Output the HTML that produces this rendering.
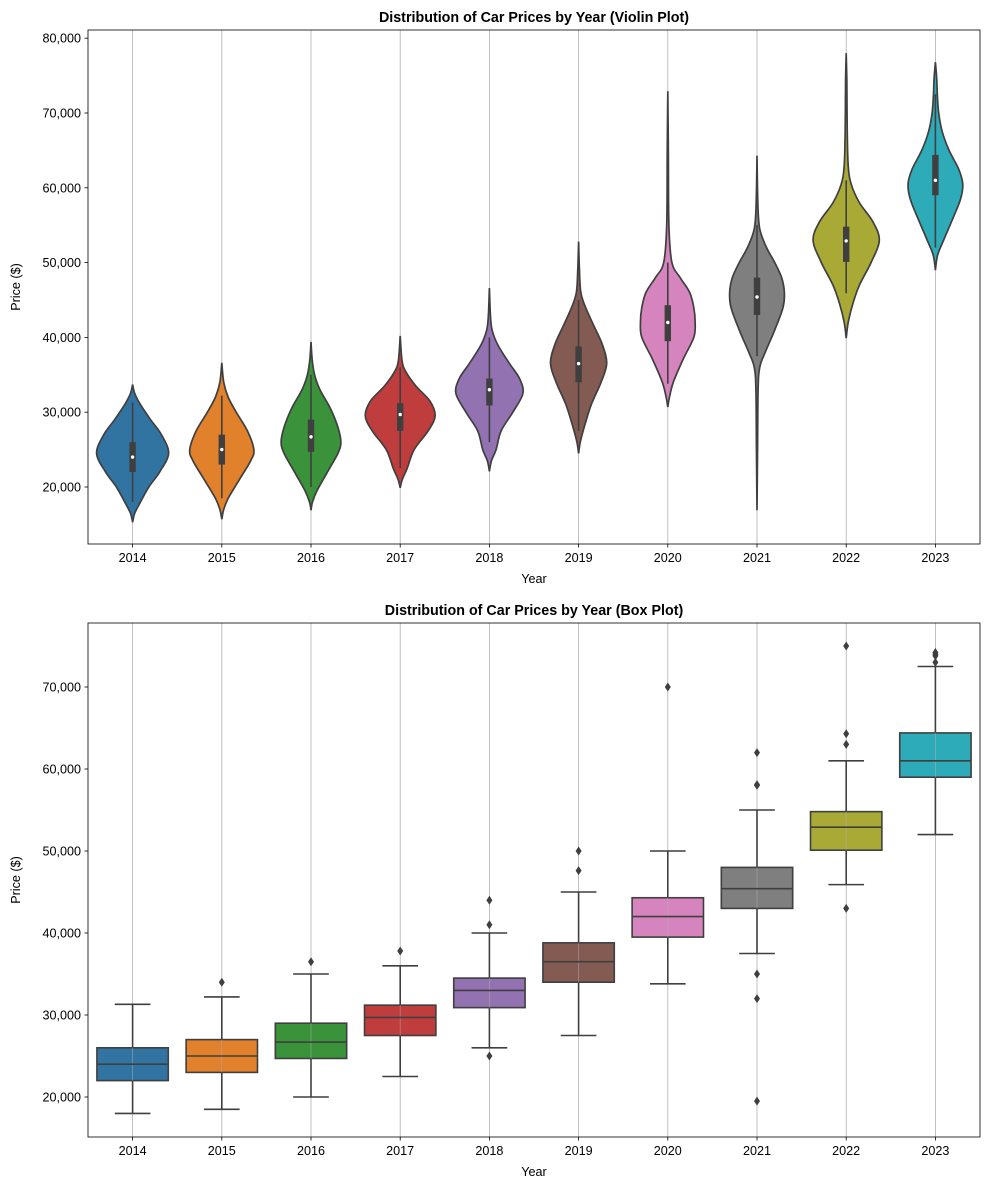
<!DOCTYPE html>
<html><head><meta charset="utf-8"><style>
body{margin:0;background:#fff}
svg text{font-family:"Liberation Sans",sans-serif;fill:#000}
</style></head><body>
<svg id="chart" width="989" height="1190" viewBox="0 0 989 1190" xmlns="http://www.w3.org/2000/svg"></svg>
<script>
const years=["2014","2015","2016","2017","2018","2019","2020","2021","2022","2023"];
const colors=["#3274a1","#e1812c","#3a923a","#c03d3e","#9372b2","#845b53","#d684bd","#7f7f7f","#a9aa35","#2eabb8"];
// violin density profiles (price in thousands, relative width)
const violinPrices=[
[15.3,16.5,18,20,22,24.5,27,29,31,32.5,33.7],
[15.7,17,18.5,21,23.5,25,27.5,30,32,34,36.6],
[16.9,18,19.5,22,24.5,26,28,30.5,33,35,37,39.4],
[19.9,21,22.5,25,27.5,29.5,31.5,33.5,35.5,37,40.2],
[22.1,23.5,25,27.5,30,32.5,34.5,36.5,39,41,43,46.6],
[24.5,26,28,31,34,36.5,39,41.5,44,46,49,52.8],
[30.7,32,34,37,40,42,44,46,48,50,55,65,72.9],
[16.9,25,33,36,38,41,44,46,48,50,52,54.5,58,64.3],
[39.9,42,44.5,47,50,53,55.5,58,60.5,63,68,74,78],
[49,51,53,56,58.5,60.5,62.5,65,67.5,70,72.5,74.5,76.8]];
const violinDensity=[
[0,0.06,0.22,0.45,0.75,1,0.8,0.5,0.22,0.06,0],
[0,0.06,0.2,0.55,0.9,1,0.8,0.45,0.2,0.06,0],
[0,0.05,0.2,0.55,0.9,1,0.9,0.65,0.3,0.12,0.04,0],
[0,0.06,0.2,0.4,0.8,1,0.85,0.45,0.15,0.05,0],
[0,0.06,0.2,0.35,0.7,1,0.9,0.6,0.25,0.08,0.03,0],
[0,0.06,0.2,0.45,0.8,1,0.85,0.55,0.25,0.08,0.03,0],
[0,0.06,0.2,0.55,0.95,1,0.95,0.8,0.45,0.15,0.04,0.02,0],
[0,0.02,0.04,0.1,0.3,0.65,0.95,1,0.9,0.65,0.35,0.1,0.03,0],
[0,0.06,0.2,0.4,0.75,1,0.8,0.4,0.15,0.06,0.03,0.02,0],
[0,0.08,0.3,0.65,0.92,1,0.85,0.5,0.25,0.12,0.07,0.05,0]];
const violinScale=[1,0.89,0.83,0.97,0.93,0.78,0.76,0.76,0.92,0.76];
const q1=[22000,23000,24700,27500,30900,34000,39500,43000,50100,59000];
const med=[24000,25000,26700,29700,33000,36500,42000,45400,52900,61000];
const q3=[26000,27000,29000,31200,34500,38800,44300,48000,54800,64400];
const whiskLo=[18000,18500,20000,22500,26000,27500,33800,37500,45900,52000];
const whiskHi=[31300,32200,35000,36000,40000,45000,50000,55000,61000,72500];
const outliers=[[],[34000],[36500],[37800],[44000,41000,25000],[47600,50000],[70000],[58000,58100,62000,35000,32000,19500],[63000,64300,75000,43000],[73000,73800,74000,74200]];
const violinTicks=[20000,30000,40000,50000,60000,70000,80000];
const boxTicks=[20000,30000,40000,50000,60000,70000];

const svg=document.getElementById('chart');
const NS="http://www.w3.org/2000/svg";
function mk(tag,attrs,parent){const e=document.createElementNS(NS,tag);for(const k in attrs)e.setAttribute(k,attrs[k]);(parent||svg).appendChild(e);return e;}
const L=88,R=980,step=(R-L)/years.length;
const xc=i=>L+step*(i+0.5);
const fmt=v=>v.toLocaleString('en-US');

function panel(top,bot,yv,title,ticks,name){
  const g=mk('g',{});
  
  
  const grid=mk('g',{},g);
  years.forEach((y,i)=>{const l=mk('line',{x1:xc(i),x2:xc(i),y1:top,y2:bot,stroke:'#b0b0b0','stroke-width':0.8},grid);
    });
  const t=mk('text',{x:(L+R)/2,y:top-8,'text-anchor':'middle','font-size':14.3,'font-weight':'bold'},g);t.textContent=title;
  
  ticks.forEach(v=>{const y=yv(v);mk('line',{x1:L-3.5,x2:L,y1:y,y2:y,stroke:'#000','stroke-width':0.8},g);
    const tx=mk('text',{x:L-7,y:y+4.5,'text-anchor':'end','font-size':12.6},g);tx.textContent=fmt(v);
    });
  years.forEach((yr,i)=>{mk('line',{x1:xc(i),x2:xc(i),y1:bot,y2:bot+3.5,stroke:'#000','stroke-width':0.8},g);
    const tx=mk('text',{x:xc(i),y:bot+18,'text-anchor':'middle','font-size':12.6},g);tx.textContent=yr;
    });
  const xl=mk('text',{x:(L+R)/2,y:bot+39,'text-anchor':'middle','font-size':12.6},g);xl.textContent='Year';
  
  const cy=(top+bot)/2;
  const yl=mk('text',{x:20,y:cy,'text-anchor':'middle','font-size':12.6,transform:`rotate(-90 20 ${cy})`},g);yl.textContent='Price ($)';
  
  return g;
}
function frame(top,bot,g){const r=mk('rect',{x:L,y:top,width:R-L,height:bot-top,fill:'none',stroke:'#000','stroke-width':0.8},g);
  }

// Violin panel
const vTop=30,vBot=544;
const yV=v=>487-(v-20000)*0.00748;
const gv=panel(vTop,vBot,yV,'Distribution of Car Prices by Year (Violin Plot)',violinTicks,'violin-plot');
function smooth(pts){let d=`M${pts[0][0]},${pts[0][1]}`;
  for(let i=0;i<pts.length-1;i++){const p0=pts[Math.max(0,i-1)],p1=pts[i],p2=pts[i+1],p3=pts[Math.min(pts.length-1,i+2)];
    const c1=[p1[0]+(p2[0]-p0[0])/6,p1[1]+(p2[1]-p0[1])/6],c2=[p2[0]-(p3[0]-p1[0])/6,p2[1]-(p3[1]-p1[1])/6];
    d+=` C${c1[0]},${c1[1]} ${c2[0]},${c2[1]} ${p2[0]},${p2[1]}`;}return d;}
years.forEach((yr,i)=>{
  const cx=xc(i),maxW=36*violinScale[i];
  const right=violinPrices[i].map((p,k)=>[cx+violinDensity[i][k]*maxW,yV(p*1000)]);
  const left=violinPrices[i].map((p,k)=>[cx-violinDensity[i][k]*maxW,yV(p*1000)]).reverse();
  const d=smooth(right)+' '+smooth(left).replace(/^M/,'L')+'Z';
  const v=mk('path',{d,fill:colors[i],stroke:'#3f3f3f','stroke-width':1.7},gv);
  
  mk('line',{x1:cx,x2:cx,y1:yV(whiskLo[i]),y2:yV(whiskHi[i]),stroke:'#3f3f3f','stroke-width':1.6},gv);
  mk('rect',{x:cx-3.2,y:yV(q3[i]),width:6.4,height:yV(q1[i])-yV(q3[i]),fill:'#3f3f3f'},gv);
  mk('circle',{cx,cy:yV(med[i]),r:1.7,fill:'#fff'},gv);
});
frame(vTop,vBot,gv);

// Box panel
const bTop=623,bBot=1137;
const yB=v=>1097-(v-20000)*0.0082;
const gb=panel(bTop,bBot,yB,'Distribution of Car Prices by Year (Box Plot)',boxTicks,'box-plot');
years.forEach((yr,i)=>{
  const cx=xc(i),bw=step*0.8,cw=bw/2,S='#3f3f3f';
  mk('line',{x1:cx,x2:cx,y1:yB(whiskLo[i]),y2:yB(q1[i]),stroke:S,'stroke-width':1.6},gb);
  mk('line',{x1:cx,x2:cx,y1:yB(whiskHi[i]),y2:yB(q3[i]),stroke:S,'stroke-width':1.6},gb);
  mk('line',{x1:cx-cw/2,x2:cx+cw/2,y1:yB(whiskLo[i]),y2:yB(whiskLo[i]),stroke:S,'stroke-width':1.6},gb);
  mk('line',{x1:cx-cw/2,x2:cx+cw/2,y1:yB(whiskHi[i]),y2:yB(whiskHi[i]),stroke:S,'stroke-width':1.6},gb);
  const b=mk('rect',{x:cx-bw/2,y:yB(q3[i]),width:bw,height:yB(q1[i])-yB(q3[i]),fill:colors[i],stroke:S,'stroke-width':1.6},gb);
  
  mk('line',{x1:cx,x2:cx,y1:yB(q3[i]),y2:yB(q1[i]),stroke:'#b0b0b0','stroke-width':0.8,opacity:0.6},gb);
  mk('line',{x1:cx-bw/2,x2:cx+bw/2,y1:yB(med[i]),y2:yB(med[i]),stroke:S,'stroke-width':1.6},gb);
  outliers[i].forEach(o=>{const y=yB(o);
    const p=mk('path',{d:`M${cx},${y-4.5} L${cx+3},${y} L${cx},${y+4.5} L${cx-3},${y}Z`,fill:S},gb);
    });
});
frame(bTop,bBot,gb);
</script>
</body></html>
